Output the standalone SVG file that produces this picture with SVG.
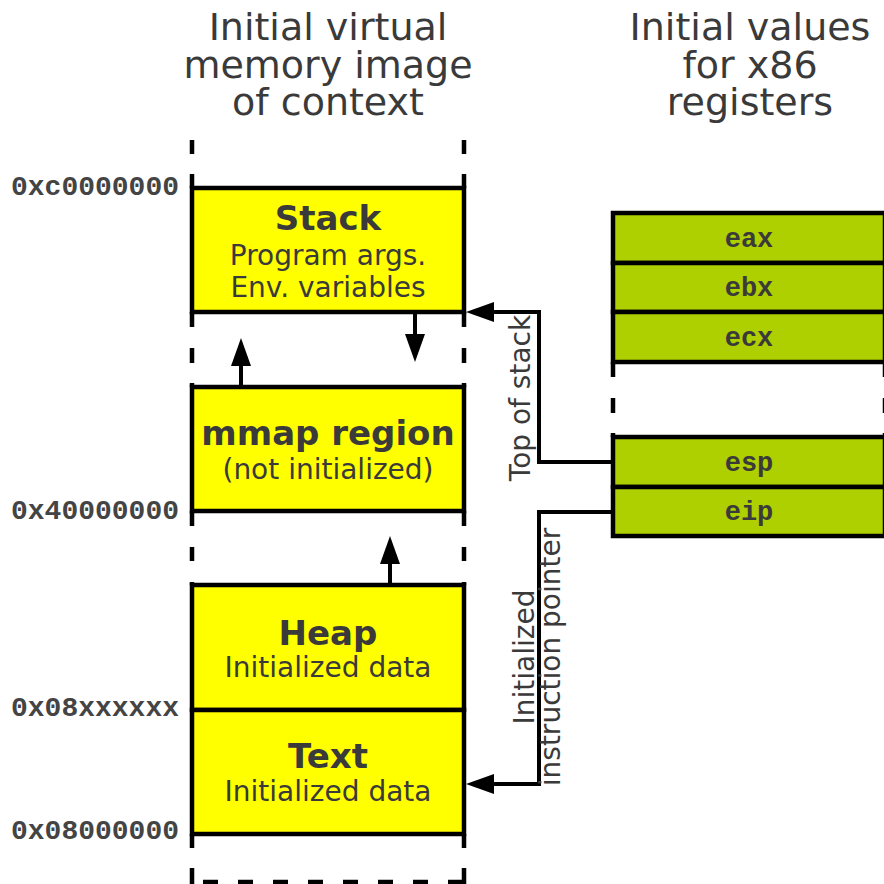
<svg xmlns="http://www.w3.org/2000/svg" width="884" height="884" viewBox="0 0 884 884">
  <style>
    .title { font-family: "DejaVu Sans", Verdana, sans-serif; font-size: 38px; fill: #3a3a3a; text-anchor: middle; }
    .head { font-family: "DejaVu Sans", Verdana, sans-serif; font-size: 34px; font-weight: bold; fill: #3a3a3a; text-anchor: middle; }
    .sub { font-family: "DejaVu Sans", Verdana, sans-serif; font-size: 28px; fill: #3a3a3a; text-anchor: middle; }
    .addr { font-family: "Liberation Mono", "Courier New", monospace; font-size: 28px; font-weight: bold; fill: #444444; }
    .reg { font-family: "Liberation Mono", "Courier New", monospace; font-size: 27px; font-weight: bold; fill: #3a3a3a; text-anchor: middle; }
    .label { font-family: "DejaVu Sans", Verdana, sans-serif; font-size: 28px; fill: #3a3a3a; text-anchor: middle; }
    .mem { fill: #ffff00; stroke: #000; stroke-width: 4.5; }
    .regbox { fill: #aecf00; stroke: #000; stroke-width: 4.5; }
    .frame { stroke: #000; stroke-width: 4.5; fill: none; }
    .wire { stroke: #000; stroke-width: 4; fill: none; }
  </style>
  <defs>
    <marker id="arrow" markerUnits="userSpaceOnUse" markerWidth="28" markerHeight="20" refX="0" refY="10" orient="auto" overflow="visible">
      <path d="M0,0 L28,10 L0,20 Z" fill="#000"/>
    </marker>
  </defs>

  <rect width="884" height="884" fill="#ffffff"/>

  <!-- column headings -->
  <g id="title-memory">
    <text class="title" x="328" y="40">Initial virtual</text>
    <text class="title" x="328" y="78">memory image</text>
    <text class="title" x="328" y="115">of context</text>
  </g>
  <g id="title-registers">
    <text class="title" x="750" y="40">Initial values</text>
    <text class="title" x="750" y="78">for x86</text>
    <text class="title" x="750" y="115">registers</text>
  </g>

  <!-- dashed outline of the address space -->
  <g id="address-space-frame" class="frame">
    <path d="M192,140 V154 M192,174 V188 M192,312 V327 M192,348 V363 M192,383 V387 M192,511 V526 M192,547 V561 M192,582 V585 M192,834 V848 M192,868 V884"/>
    <path d="M464,140 V154 M464,174 V188 M464,312 V327 M464,348 V363 M464,383 V387 M464,511 V526 M464,547 V561 M464,582 V585 M464,834 V848 M464,868 V884"/>
    <path d="M203,882 H218 M238,882 H253 M273,882 H288 M308,882 H323 M343,882 H358 M378,882 H393 M413,882 H428 M448,882 H466"/>
  </g>

  <!-- memory regions -->
  <g id="stack">
    <rect class="mem" x="192" y="188" width="272" height="124"/>
    <text class="head" x="328" y="230">Stack</text>
    <text class="sub" x="328" y="265">Program args.</text>
    <text class="sub" x="328" y="297">Env. variables</text>
  </g>
  <g id="mmap">
    <rect class="mem" x="192" y="387" width="272" height="124"/>
    <text class="head" x="328" y="445">mmap region</text>
    <text class="sub" x="328" y="479">(not initialized)</text>
  </g>
  <g id="heap">
    <rect class="mem" x="192" y="585" width="272" height="125"/>
    <text class="head" x="328" y="645">Heap</text>
    <text class="sub" x="328" y="677">Initialized data</text>
  </g>
  <g id="text-segment">
    <rect class="mem" x="192" y="710" width="272" height="124"/>
    <text class="head" x="328" y="768">Text</text>
    <text class="sub" x="328" y="801">Initialized data</text>
  </g>

  <!-- addresses -->
  <g id="addresses">
    <text class="addr" x="11" y="195">0xc0000000</text>
    <text class="addr" x="11" y="519">0x40000000</text>
    <text class="addr" x="11" y="716">0x08xxxxxx</text>
    <text class="addr" x="11" y="839">0x08000000</text>
  </g>

  <!-- register file -->
  <g id="register-frame" class="frame">
    <path d="M613,362 V377 M613,398 V413 M613,433 V437"/>
    <path d="M885,362 V377 M885,398 V413 M885,433 V437"/>
  </g>
  <g id="reg-eax">
    <rect class="regbox" x="613" y="213" width="272" height="50"/>
    <text class="reg" x="749" y="247">eax</text>
  </g>
  <g id="reg-ebx">
    <rect class="regbox" x="613" y="263" width="272" height="49"/>
    <text class="reg" x="749" y="296">ebx</text>
  </g>
  <g id="reg-ecx">
    <rect class="regbox" x="613" y="312" width="272" height="50"/>
    <text class="reg" x="749" y="346">ecx</text>
  </g>
  <g id="reg-esp">
    <rect class="regbox" x="613" y="437" width="272" height="50"/>
    <text class="reg" x="749" y="471">esp</text>
  </g>
  <g id="reg-eip">
    <rect class="regbox" x="613" y="487" width="272" height="49"/>
    <text class="reg" x="749" y="520">eip</text>
  </g>

  <!-- connectors -->
  <g id="connectors">
    <path class="wire" d="M415,312 V334" marker-end="url(#arrow)"/>
    <path class="wire" d="M241,387 V366" marker-end="url(#arrow)"/>
    <path class="wire" d="M390,585 V564" marker-end="url(#arrow)"/>
    <path class="wire" d="M613,462 H539 V312 H494" marker-end="url(#arrow)"/>
    <path class="wire" d="M613,512 H539 V784 H494" marker-end="url(#arrow)"/>
    <text class="label" transform="translate(530,398) rotate(-90)">Top of stack</text>
    <text class="label" transform="translate(534,657) rotate(-90)">Initialized</text>
    <text class="label" transform="translate(560,657) rotate(-90)">instruction pointer</text>
  </g>
</svg>
